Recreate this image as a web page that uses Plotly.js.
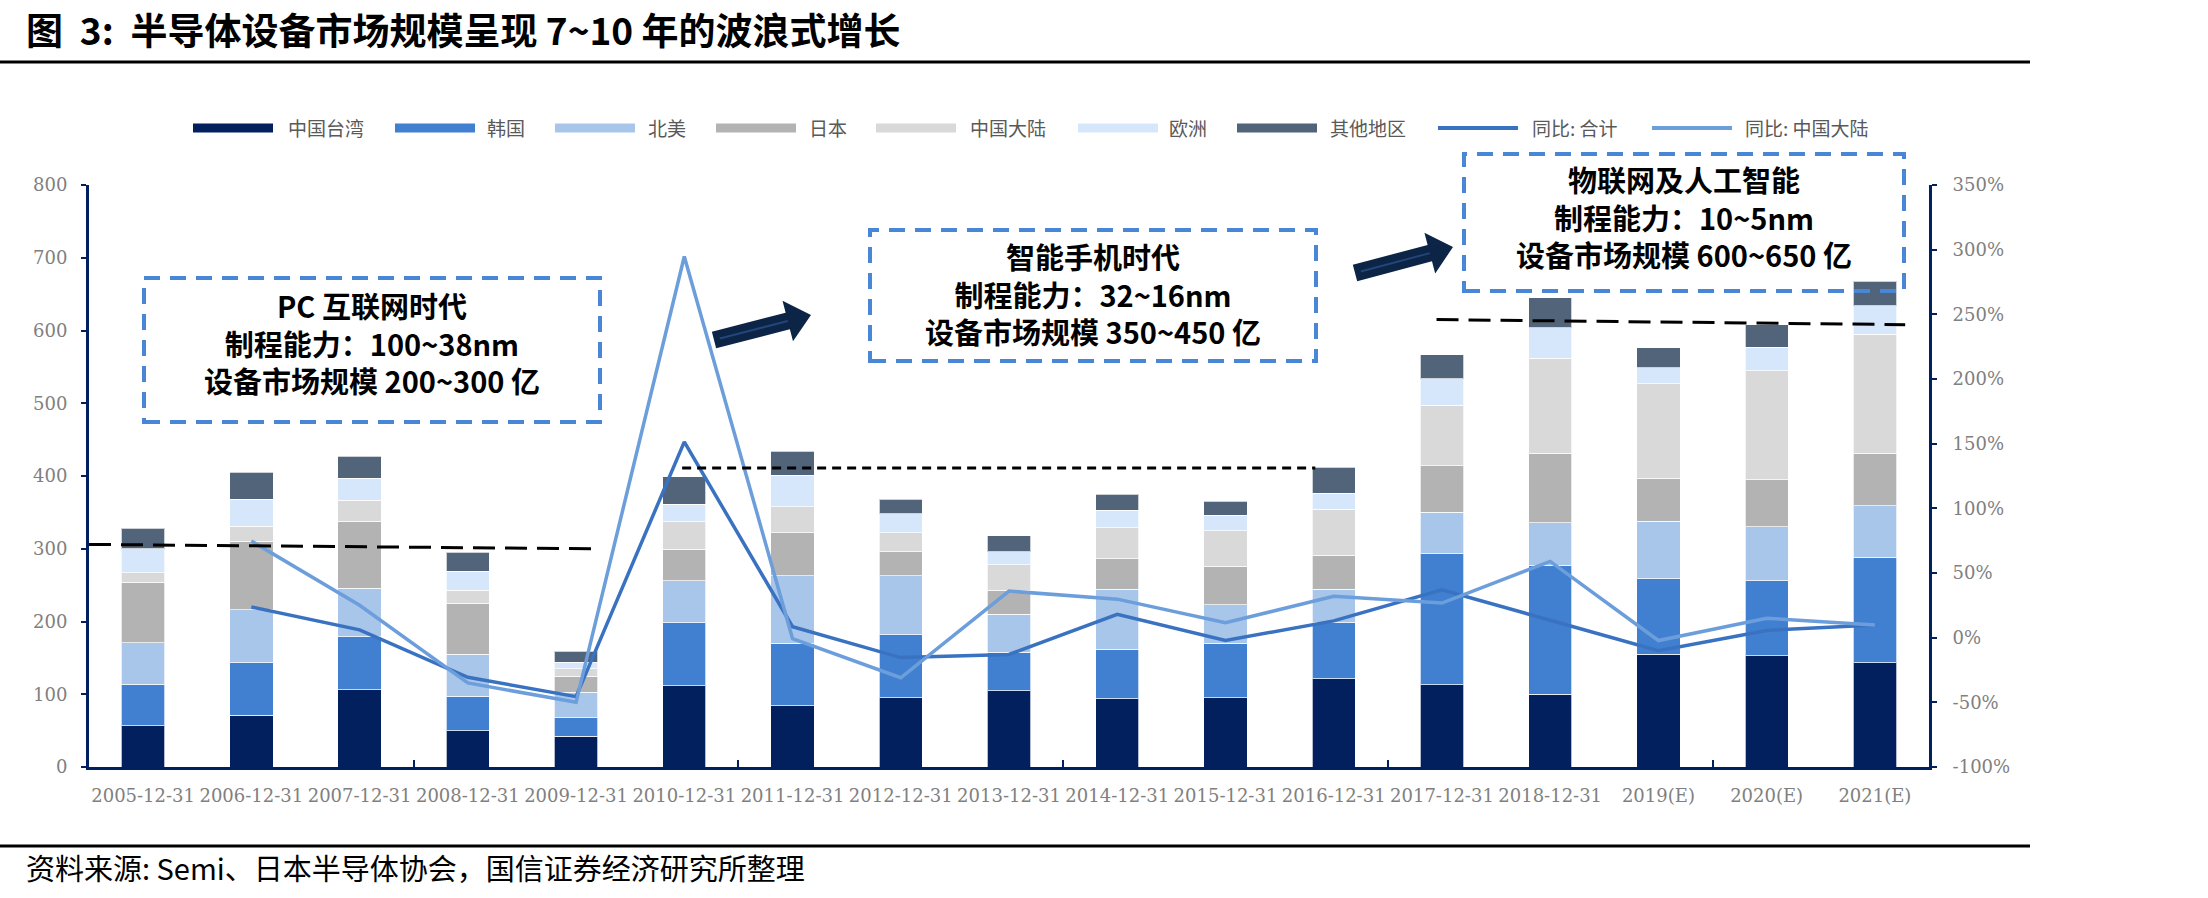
<!DOCTYPE html>
<html>
<head>
<meta charset="utf-8">
<script src="https://cdn.plot.ly/plotly-3.0.1.min.js"></script>
<style>
  html, body { margin: 0; padding: 0; background: #ffffff; }
  #chart { width: 2208px; height: 898px; }
</style>
</head>
<body>
<div id="chart"></div>
<script>
// ---------------- data ----------------
const categories = ['2005-12-31','2006-12-31','2007-12-31','2008-12-31','2009-12-31','2010-12-31',
  '2011-12-31','2012-12-31','2013-12-31','2014-12-31','2015-12-31','2016-12-31','2017-12-31',
  '2018-12-31','2019(E)','2020(E)','2021(E)'];

const seriesNames = ['中国台湾','韩国','北美','日本','中国大陆','欧洲','其他地区'];
const taiwan        = [57, 71, 106, 50, 42, 112, 84, 95, 105, 94, 95, 121, 113, 100, 155, 153, 143];
const korea         = [57, 72, 73, 47, 26, 86, 86, 87, 53, 68, 75, 77, 180, 177, 104, 103, 145];
const northAmerica  = [57, 73, 67, 58, 35, 58, 93, 81, 52, 82, 53, 46, 57, 59, 79, 74, 71];
const japan         = [83, 94, 92, 70, 22, 43, 59, 33, 33, 42, 53, 47, 64, 95, 59, 65, 72];
const chinaMainland = [13, 21, 29, 18, 10, 38, 36, 26, 35, 43, 49, 63, 83, 131, 130, 150, 164];
const europe        = [33, 37, 30, 26, 9, 24, 43, 26, 18, 24, 21, 22, 37, 42, 22, 32, 39];
const others        = [28, 37, 30, 26, 15, 38, 33, 20, 22, 22, 19, 36, 33, 41, 27, 31, 34];

const lineNames = ['同比: 合计', '同比: 中国大陆'];
const yoyTotal = [null, 23.7, 6, -30.6, -45.6, 151.4, 8.5, -15.4, -13, 18, -2.2, 13, 37, 13.5, -10, 5.6, 9.7];
const yoyChina = [null, 74.7, 25, -35, -50, 294.7, -0.7, -31, 36, 29.8, 11.5, 32, 26.8, 59, -2.2, 15, 9.7];

// era reference levels (dashed black lines), category-index positions
const eraStartX = [-0.5, 4.98, 11.95];
const eraEndX   = [4.14, 10.83, 16.28];
const eraStartY = [306, 411, 615];
const eraEndY   = [300, 411, 608];

const eraTexts = [
  'PC 互联网时代<br>制程能力：100~38nm<br>设备市场规模 200~300 亿',
  '智能手机时代<br>制程能力：32~16nm<br>设备市场规模 350~450 亿',
  '物联网及人工智能<br>制程能力：10~5nm<br>设备市场规模 600~650 亿'
];

const yTicksLeft = [0, 100, 200, 300, 400, 500, 600, 700, 800];
const yTicksRight = [-100, -50, 0, 50, 100, 150, 200, 250, 300, 350];
const yTickTextRight = yTicksRight.map(v => v + '%');

const titleText = '图\u00a0\u00a03:\u00a0\u00a0半导体设备市场规模呈现 7~10 年的波浪式增长';
const sourceText = '资料来源: Semi、日本半导体协会，国信证券经济研究所整理';

// ---------------- styling ----------------
const barColors = ['#03205E', '#4180D0', '#A8C5EA', '#B3B3B3', '#D9D9D9', '#D7E7FB', '#516479'];
const lineColors = ['#3A72C2', '#6C9EDB'];
const W = 2208, H = 898;
const M = {l: 89, r: 279, t: 185, b: 131};
const PW = W - M.l - M.r, PH = H - M.t - M.b;
const px2x = p => (p - M.l) / PW;
const py2y = p => (H - M.b - p) / PH;

const tickFont = {family: 'DejaVu Serif', size: 18, color: '#808080'};
const legendFont = {family: 'Noto Sans CJK SC', size: 19, color: '#595959'};

// ---------------- traces ----------------
const barSeries = [taiwan, korea, northAmerica, japan, chinaMainland, europe, others];
const traces = [];
barSeries.forEach((vals, i) => {
  traces.push({
    type: 'bar', x: categories, y: vals, name: seriesNames[i],
    marker: {color: barColors[i], line: {color: 'rgba(255,255,255,0.7)', width: 1}},
    xaxis: 'x', yaxis: 'y', showlegend: false, hoverinfo: 'skip'
  });
});

const eraDash = ['22px,10px', '9px,6px', '22px,10px'];
eraStartX.forEach((x0, i) => {
  traces.push({
    type: 'scatter', mode: 'lines', x: [x0, eraEndX[i]], y: [eraStartY[i], eraEndY[i]],
    line: {color: '#000000', width: 3, dash: eraDash[i]},
    xaxis: 'x2', yaxis: 'y', showlegend: false, hoverinfo: 'skip'
  });
});

[yoyTotal, yoyChina].forEach((vals, i) => {
  traces.push({
    type: 'scatter', mode: 'lines', x: categories, y: vals, name: lineNames[i],
    line: {color: lineColors[i], width: 3.5}, connectgaps: false,
    xaxis: 'x', yaxis: 'y2', showlegend: false, hoverinfo: 'skip'
  });
});

// ---------------- shapes & annotations ----------------
const shapes = [];
const annotations = [];

// top & bottom rule lines
shapes.push({type: 'line', xref: 'paper', yref: 'paper', x0: px2x(0), x1: px2x(2030), y0: py2y(62), y1: py2y(62),
  line: {color: '#000000', width: 3}});
shapes.push({type: 'line', xref: 'paper', yref: 'paper', x0: px2x(0), x1: px2x(2030), y0: py2y(846), y1: py2y(846),
  line: {color: '#000000', width: 3}});

// custom legend
const legendSwatchX = [193, 395, 555, 716, 876, 1078, 1237, 1438, 1652];
const legendTextX   = [286, 485, 646, 807, 968, 1167, 1328, 1530, 1743];
const legendY = 128;
const legendLabels = seriesNames.concat(lineNames);
legendLabels.forEach((name, i) => {
  const sx = legendSwatchX[i];
  if (i < seriesNames.length) {
    shapes.push({type: 'rect', xref: 'paper', yref: 'paper', x0: px2x(sx), x1: px2x(sx + 80),
      y0: py2y(legendY + 4.5), y1: py2y(legendY - 4.5), fillcolor: barColors[i], line: {width: 0}});
  } else {
    const c = lineColors[i - seriesNames.length];
    shapes.push({type: 'line', xref: 'paper', yref: 'paper', x0: px2x(sx), x1: px2x(sx + 80),
      y0: py2y(legendY), y1: py2y(legendY), line: {color: c, width: 4}});
  }
  annotations.push({xref: 'paper', yref: 'paper', x: px2x(legendTextX[i]), y: py2y(legendY),
    xanchor: 'left', yanchor: 'middle', text: name, showarrow: false, font: legendFont});
});

// era boxes
const boxes = [
  {x0: 144, x1: 600, y0: 278, y1: 422, cy: 342},
  {x0: 870, x1: 1316, y0: 230, y1: 361, cy: 293},
  {x0: 1464, x1: 1904, y0: 154, y1: 291, cy: 216}
];
boxes.forEach((b, i) => {
  shapes.push({type: 'rect', xref: 'paper', yref: 'paper', x0: px2x(b.x0), x1: px2x(b.x1),
    y0: py2y(b.y1), y1: py2y(b.y0), line: {color: '#4A86D6', width: 4, dash: '16px,10px'},
    fillcolor: 'rgba(255,255,255,0)'});
  annotations.push({xref: 'paper', yref: 'paper', x: px2x((b.x0 + b.x1) / 2), y: py2y(b.cy),
    xanchor: 'center', yanchor: 'middle', text: '<b>' + eraTexts[i] + '</b>', showarrow: false,
    align: 'center', font: {family: 'Noto Sans CJK SC', size: 29, color: '#000000'}});
});

// arrows
function arrow(tx, ty, hx, hy, bw, hw, hl) {
  const dx = hx - tx, dy = hy - ty, len = Math.hypot(dx, dy);
  const ux = dx / len, uy = dy / len, nx = -uy, ny = ux;
  const bx = hx - ux * hl, by = hy - uy * hl;
  const pts = [
    [tx + nx * bw / 2, ty + ny * bw / 2],
    [bx + nx * bw / 2, by + ny * bw / 2],
    [bx + nx * hw / 2, by + ny * hw / 2],
    [hx, hy],
    [bx - nx * hw / 2, by - ny * hw / 2],
    [bx - nx * bw / 2, by - ny * bw / 2],
    [tx - nx * bw / 2, ty - ny * bw / 2]
  ];
  const path = 'M' + pts.map(p => px2x(p[0]).toFixed(5) + ',' + py2y(p[1]).toFixed(5)).join(' L') + ' Z';
  shapes.push({type: 'path', xref: 'paper', yref: 'paper', path: path, fillcolor: '#0C2445', line: {width: 0}});
  shapes.push({type: 'line', xref: 'paper', yref: 'paper', x0: px2x(tx + ux * 6), y0: py2y(ty + uy * 6),
    x1: px2x(bx), y1: py2y(by), line: {color: '#22457A', width: 2}});
}
arrow(714, 340, 811, 315, 17, 42, 24);
arrow(1355, 273, 1453, 247, 17, 42, 24);

// source
annotations.push({xref: 'paper', yref: 'paper', x: px2x(24), y: py2y(867), xanchor: 'left', yanchor: 'middle',
  text: sourceText, showarrow: false, font: {family: 'Noto Sans CJK SC', size: 29, color: '#000000'}});

// title as annotation (kept clear of the top edge)
annotations.push({xref: 'paper', yref: 'paper', x: px2x(24), y: py2y(29), xanchor: 'left', yanchor: 'middle',
  text: '<b>' + titleText + '</b>', showarrow: false,
  font: {family: 'Noto Sans CJK SC', size: 37, color: '#000000'}});

// ---------------- layout ----------------
const layout = {
  width: W, height: H,
  margin: {l: M.l, r: M.r, t: M.t, b: M.b, pad: 0},
  paper_bgcolor: '#ffffff', plot_bgcolor: '#ffffff',
  barmode: 'stack', bargap: 0.6,
  showlegend: false,
  xaxis: {
    type: 'category', range: [-0.5, 16.5], showline: true, linecolor: '#002060', linewidth: 3,
    ticks: '', tickangle: 0, tickfont: tickFont, ticklabelstandoff: 10,
    showgrid: false, zeroline: false, fixedrange: true
  },
  xaxis2: {
    overlaying: 'x', anchor: 'y', range: [-0.5, 16.5], tickvals: [2.5, 5.5, 8.5, 11.5, 14.5],
    ticks: 'inside', ticklen: 7, tickwidth: 2, tickcolor: '#002060', showticklabels: false,
    showline: false, showgrid: false, zeroline: false, fixedrange: true
  },
  yaxis: {
    range: [0, 800], tickvals: yTicksLeft, showline: true, linecolor: '#002060', linewidth: 3,
    ticks: 'outside', ticklen: 5, tickwidth: 2, tickcolor: '#002060', tickfont: tickFont,
    ticklabelstandoff: 10, showgrid: false, zeroline: false, fixedrange: true
  },
  yaxis2: {
    overlaying: 'y', side: 'right', range: [-100, 350], tickvals: yTicksRight, ticktext: yTickTextRight,
    showline: true, linecolor: '#002060', linewidth: 3, ticks: 'outside', ticklen: 5, tickwidth: 2,
    tickcolor: '#002060', tickfont: tickFont, ticklabelstandoff: 12,
    showgrid: false, zeroline: false, fixedrange: true
  },
  shapes: shapes,
  annotations: annotations
};

Plotly.newPlot('chart', traces, layout, {staticPlot: true, displayModeBar: false});
</script>
</body>
</html>
